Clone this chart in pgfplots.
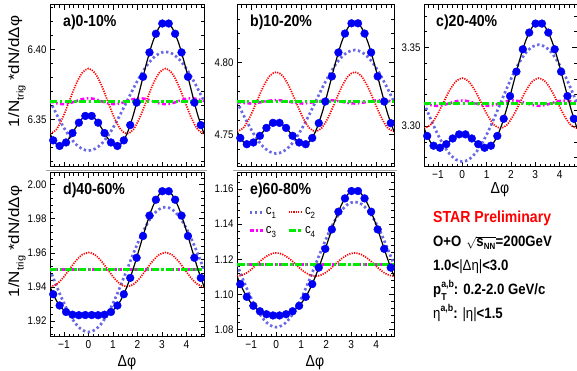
\documentclass[border=0pt]{standalone}
\usepackage{pgfplots}
\pgfplotsset{compat=1.18}
\usepackage{pgfplotstable}
\usepackage{fontspec}
\setmainfont{Liberation Sans}[FakeStretch=0.88]
\newfontfamily\plainsans{Liberation Sans}
\definecolor{cone}{RGB}{105,105,230}
\definecolor{ctwo}{RGB}{255,0,0}
\definecolor{cthree}{RGB}{255,0,255}
\definecolor{cfour}{RGB}{0,235,0}
\definecolor{mblue}{RGB}{0,0,245}

% ---------------- panel a ----------------
\pgfplotstableread{
x fit c1 c2 c3 c4
-1.5708 6.3399 6.3631 6.3399 6.3631 6.3631
-1.3090 6.3323 6.3540 6.3430 6.3616 6.3631
-1.0472 6.3317 6.3455 6.3515 6.3610 6.3631
-0.7854 6.3367 6.3382 6.3631 6.3616 6.3631
-0.5236 6.3442 6.3326 6.3747 6.3631 6.3631
-0.2618 6.3507 6.3291 6.3832 6.3646 6.3631
0.0000 6.3533 6.3279 6.3864 6.3652 6.3631
0.2618 6.3507 6.3291 6.3832 6.3646 6.3631
0.5236 6.3442 6.3326 6.3747 6.3631 6.3631
0.7854 6.3367 6.3382 6.3631 6.3616 6.3631
1.0472 6.3317 6.3455 6.3515 6.3610 6.3631
1.3090 6.3323 6.3540 6.3430 6.3616 6.3631
1.5708 6.3399 6.3631 6.3399 6.3631 6.3631
1.8326 6.3536 6.3722 6.3430 6.3646 6.3631
2.0944 6.3712 6.3807 6.3515 6.3652 6.3631
2.3562 6.3895 6.3880 6.3631 6.3646 6.3631
2.6180 6.4052 6.3936 6.3747 6.3631 6.3631
2.8798 6.4157 6.3971 6.3832 6.3616 6.3631
3.1416 6.4194 6.3983 6.3864 6.3610 6.3631
3.4034 6.4157 6.3971 6.3832 6.3616 6.3631
3.6652 6.4052 6.3936 6.3747 6.3631 6.3631
3.9270 6.3895 6.3880 6.3631 6.3646 6.3631
4.1888 6.3712 6.3807 6.3515 6.3652 6.3631
4.4506 6.3536 6.3722 6.3430 6.3646 6.3631
4.7124 6.3399 6.3631 6.3399 6.3631 6.3631
}\curA
\pgfplotstableread{
x y
-1.4399 6.3352
-1.1781 6.3312
-0.9163 6.3337
-0.6545 6.3404
-0.3927 6.3478
-0.1309 6.3526
0.1309 6.3526
0.3927 6.3478
0.6545 6.3404
0.9163 6.3337
1.1781 6.3312
1.4399 6.3352
1.7017 6.3461
1.9635 6.3621
2.2253 6.3805
2.4871 6.3979
2.7489 6.4112
3.0107 6.4185
3.2725 6.4185
3.5343 6.4112
3.7961 6.3979
4.0579 6.3805
4.3197 6.3621
4.5815 6.3461
}\datA

% ---------------- panel b ----------------
\pgfplotstableread{
x fit c1 c2 c3 c4
-1.5708 4.7521 4.7727 4.7521 4.7727 4.7727
-1.3090 4.7447 4.7634 4.7548 4.7719 4.7727
-1.0472 4.7433 4.7548 4.7624 4.7715 4.7727
-0.7854 4.7465 4.7473 4.7727 4.7719 4.7727
-0.5236 4.7520 4.7416 4.7830 4.7727 4.7727
-0.2618 4.7567 4.7381 4.7906 4.7735 4.7727
0.0000 4.7586 4.7368 4.7933 4.7739 4.7727
0.2618 4.7567 4.7381 4.7906 4.7735 4.7727
0.5236 4.7520 4.7416 4.7830 4.7727 4.7727
0.7854 4.7465 4.7473 4.7727 4.7719 4.7727
1.0472 4.7433 4.7548 4.7624 4.7715 4.7727
1.3090 4.7447 4.7634 4.7548 4.7719 4.7727
1.5708 4.7521 4.7727 4.7521 4.7727 4.7727
1.8326 4.7649 4.7820 4.7548 4.7735 4.7727
2.0944 4.7815 4.7906 4.7624 4.7739 4.7727
2.3562 4.7989 4.7981 4.7727 4.7735 4.7727
2.6180 4.8141 4.8038 4.7830 4.7727 4.7727
2.8798 4.8244 4.8073 4.7906 4.7719 4.7727
3.1416 4.8280 4.8086 4.7933 4.7715 4.7727
3.4034 4.8244 4.8073 4.7906 4.7719 4.7727
3.6652 4.8141 4.8038 4.7830 4.7727 4.7727
3.9270 4.7989 4.7981 4.7727 4.7735 4.7727
4.1888 4.7815 4.7906 4.7624 4.7739 4.7727
4.4506 4.7649 4.7820 4.7548 4.7735 4.7727
4.7124 4.7521 4.7727 4.7521 4.7727 4.7727
}\curB
\pgfplotstableread{
x y
-1.4399 4.7476
-1.1781 4.7433
-0.9163 4.7445
-0.6545 4.7491
-0.3927 4.7546
-0.1309 4.7581
0.1309 4.7581
0.3927 4.7546
0.6545 4.7491
0.9163 4.7445
1.1781 4.7433
1.4399 4.7476
1.7017 4.7579
1.9635 4.7729
2.2253 4.7903
2.4871 4.8069
2.7489 4.8200
3.0107 4.8271
3.2725 4.8271
3.5343 4.8200
3.7961 4.8069
4.0579 4.7903
4.3197 4.7729
4.5815 4.7579
}\datB

% ---------------- panel c ----------------
\pgfplotstableread{
x fit c1 c2 c3 c4
-1.5708 3.2987 3.3146 3.2987 3.3146 3.3146
-1.3090 3.2900 3.3050 3.3008 3.3134 3.3146
-1.0472 3.2864 3.2961 3.3067 3.3129 3.3146
-0.7854 3.2872 3.2884 3.3146 3.3134 3.3146
-0.5236 3.2904 3.2825 3.3226 3.3146 3.3146
-0.2618 3.2937 3.2788 3.3284 3.3158 3.3146
0.0000 3.2951 3.2775 3.3305 3.3163 3.3146
0.2618 3.2937 3.2788 3.3284 3.3158 3.3146
0.5236 3.2904 3.2825 3.3226 3.3146 3.3146
0.7854 3.2872 3.2884 3.3146 3.3134 3.3146
1.0472 3.2864 3.2961 3.3067 3.3129 3.3146
1.3090 3.2900 3.3050 3.3008 3.3134 3.3146
1.5708 3.2987 3.3146 3.2987 3.3146 3.3146
1.8326 3.3116 3.3242 3.3008 3.3158 3.3146
2.0944 3.3269 3.3331 3.3067 3.3163 3.3146
2.3562 3.3420 3.3408 3.3146 3.3158 3.3146
2.6180 3.3547 3.3467 3.3226 3.3146 3.3146
2.8798 3.3630 3.3504 3.3284 3.3134 3.3146
3.1416 3.3659 3.3517 3.3305 3.3129 3.3146
3.4034 3.3630 3.3504 3.3284 3.3134 3.3146
3.6652 3.3547 3.3467 3.3226 3.3146 3.3146
3.9270 3.3420 3.3408 3.3146 3.3158 3.3146
4.1888 3.3269 3.3331 3.3067 3.3163 3.3146
4.4506 3.3116 3.3242 3.3008 3.3158 3.3146
4.7124 3.2987 3.3146 3.2987 3.3146 3.3146
}\curC
\pgfplotstableread{
x y
-1.4399 3.2938
-1.1781 3.2876
-0.9163 3.2863
-0.6545 3.2886
-0.3927 3.2922
-0.1309 3.2948
0.1309 3.2948
0.3927 3.2922
0.6545 3.2886
0.9163 3.2863
1.1781 3.2876
1.4399 3.2938
1.7017 3.3047
1.9635 3.3191
2.2253 3.3346
2.4871 3.3488
2.7489 3.3594
3.0107 3.3651
3.2725 3.3651
3.5343 3.3594
3.7961 3.3488
4.0579 3.3346
4.3197 3.3191
4.5815 3.3047
}\datC

% ---------------- panel d ----------------
\pgfplotstableread{
x fit c1 c2 c3 c4
-1.5708 1.9402 1.9502 1.9402 1.9502 1.9502
-1.3090 1.9320 1.9407 1.9415 1.9502 1.9502
-1.0472 1.9269 1.9319 1.9452 1.9502 1.9502
-0.7854 1.9243 1.9243 1.9502 1.9502 1.9502
-0.5236 1.9235 1.9184 1.9552 1.9502 1.9502
-0.2618 1.9235 1.9148 1.9589 1.9502 1.9502
0.0000 1.9236 1.9135 1.9602 1.9502 1.9502
0.2618 1.9235 1.9148 1.9589 1.9502 1.9502
0.5236 1.9235 1.9184 1.9552 1.9502 1.9502
0.7854 1.9243 1.9243 1.9502 1.9502 1.9502
1.0472 1.9269 1.9319 1.9452 1.9502 1.9502
1.3090 1.9320 1.9407 1.9415 1.9502 1.9502
1.5708 1.9402 1.9502 1.9402 1.9502 1.9502
1.8326 1.9510 1.9597 1.9415 1.9502 1.9502
2.0944 1.9635 1.9685 1.9452 1.9502 1.9502
2.3562 1.9761 1.9761 1.9502 1.9502 1.9502
2.6180 1.9870 1.9820 1.9552 1.9502 1.9502
2.8798 1.9943 1.9856 1.9589 1.9502 1.9502
3.1416 1.9969 1.9869 1.9602 1.9502 1.9502
3.4034 1.9943 1.9856 1.9589 1.9502 1.9502
3.6652 1.9870 1.9820 1.9552 1.9502 1.9502
3.9270 1.9761 1.9761 1.9502 1.9502 1.9502
4.1888 1.9635 1.9685 1.9452 1.9502 1.9502
4.4506 1.9510 1.9597 1.9415 1.9502 1.9502
4.7124 1.9402 1.9502 1.9402 1.9502 1.9502
}\curD
\pgfplotstableread{
x y
-1.4399 1.9357
-1.1781 1.9291
-0.9163 1.9253
-0.6545 1.9237
-0.3927 1.9234
-0.1309 1.9235
0.1309 1.9235
0.3927 1.9234
0.6545 1.9237
0.9163 1.9253
1.1781 1.9291
1.4399 1.9357
1.7017 1.9453
1.9635 1.9571
2.2253 1.9699
2.4871 1.9819
2.7489 1.9912
3.0107 1.9962
3.2725 1.9962
3.5343 1.9912
3.7961 1.9819
4.0579 1.9699
4.3197 1.9571
4.5815 1.9453
}\datD

% ---------------- panel e ----------------
\pgfplotstableread{
x fit c1 c2 c3 c4
-1.5708 1.1103 1.1170 1.1103 1.1170 1.1170
-1.3090 1.1019 1.1077 1.1112 1.1170 1.1170
-1.0472 1.0957 1.0991 1.1136 1.1170 1.1170
-0.7854 1.0916 1.0916 1.1170 1.1170 1.1170
-0.5236 1.0893 1.0860 1.1203 1.1170 1.1170
-0.2618 1.0882 1.0824 1.1227 1.1170 1.1170
0.0000 1.0878 1.0812 1.1236 1.1170 1.1170
0.2618 1.0882 1.0824 1.1227 1.1170 1.1170
0.5236 1.0893 1.0860 1.1203 1.1170 1.1170
0.7854 1.0916 1.0916 1.1170 1.1170 1.1170
1.0472 1.0957 1.0991 1.1136 1.1170 1.1170
1.3090 1.1019 1.1077 1.1112 1.1170 1.1170
1.5708 1.1103 1.1170 1.1103 1.1170 1.1170
1.8326 1.1204 1.1262 1.1112 1.1170 1.1170
2.0944 1.1315 1.1349 1.1136 1.1170 1.1170
2.3562 1.1423 1.1423 1.1170 1.1170 1.1170
2.6180 1.1513 1.1480 1.1203 1.1170 1.1170
2.8798 1.1573 1.1515 1.1227 1.1170 1.1170
3.1416 1.1594 1.1527 1.1236 1.1170 1.1170
3.4034 1.1573 1.1515 1.1227 1.1170 1.1170
3.6652 1.1513 1.1480 1.1203 1.1170 1.1170
3.9270 1.1423 1.1423 1.1170 1.1170 1.1170
4.1888 1.1315 1.1349 1.1136 1.1170 1.1170
4.4506 1.1204 1.1262 1.1112 1.1170 1.1170
4.7124 1.1103 1.1170 1.1103 1.1170 1.1170
}\curE
\pgfplotstableread{
x y
-1.4399 1.1058
-1.1781 1.0985
-0.9163 1.0934
-0.6545 1.0903
-0.3927 1.0886
-0.1309 1.0879
0.1309 1.0879
0.3927 1.0886
0.6545 1.0903
0.9163 1.0934
1.1781 1.0985
1.4399 1.1058
1.7017 1.1152
1.9635 1.1259
2.2253 1.1370
2.4871 1.1471
2.7489 1.1547
3.0107 1.1589
3.2725 1.1589
3.5343 1.1547
3.7961 1.1471
4.0579 1.1370
4.3197 1.1259
4.5815 1.1152
}\datE

\pgfplotsset{
  panel/.style={
    scale only axis, anchor=south west,
    xmin=-1.5708, xmax=4.7124,
    axis line style={line width=1pt},
    every tick/.style={black, line width=0.7pt},
    major tick length=5pt, minor tick length=2.6pt,
    tick align=inside, tick pos=both,
    xtick={-1,0,1,2,3,4},
    minor xtick={-1.4,-1.2,-0.8,-0.6,-0.4,-0.2,0.2,0.4,0.6,0.8,1.2,1.4,1.6,1.8,2.2,2.4,2.6,2.8,3.2,3.4,3.6,3.8,4.2,4.4,4.6},
    /pgf/number format/assume math mode=true,
    yticklabel style={font=\fontsize{11}{12}\selectfont, /pgf/number format/fixed, /pgf/number format/fixed zerofill, /pgf/number format/precision=2},
    xticklabel style={font=\fontsize{11.5}{12}\selectfont},
    legend image code/.code={\draw[##1] (0pt,0pt) -- (13pt,0pt);},
  },
  cOne/.style={cone, line width=2.7pt, dash pattern=on 2.4pt off 2.6pt, smooth},
  cTwo/.style={ctwo, line width=1.7pt, dash pattern=on 1.2pt off 1.2pt, smooth},
  cThree/.style={cthree, line width=2.5pt, dash pattern=on 4pt off 2.5pt on 1.5pt off 2.5pt, smooth},
  cFour/.style={cfour, line width=3pt, dash pattern=on 7pt off 2.5pt on 2.5pt off 2.5pt},
  dataPts/.style={only marks, mark=*, mark size=3.9pt, mblue, mark options={draw=mblue, fill=mblue}},
  fitLine/.style={black, line width=1.2pt, smooth},
}

\newcommand{\panelcurves}[2]{%
  \addplot[cOne] table[y=c1]{#1};
  \addplot[cTwo] table[y=c2]{#1};
  \addplot[cThree] table[y=c3]{#1};
  \addplot[cFour] table[y=c4]{#1};
  \addplot[dataPts] table{#2};
  \addplot[fitLine] table[y=fit]{#1};
}

\begin{document}
\begin{tikzpicture}
\useasboundingbox (0pt,0pt) rectangle (577pt,371pt);

% gray pad separators
\draw[black!35, line width=1pt] (46pt,200.5pt) -- (207pt,200.5pt);
\draw[black!35, line width=1pt] (233pt,200.5pt) -- (397pt,200.5pt);

% panel a
\begin{axis}[panel, at={(50pt,204pt)}, width=154pt, height=162pt,
  ymin=6.3162, ymax=6.4317, ytick={6.35,6.40},
  minor ytick={6.32,6.33,6.34,6.36,6.37,6.38,6.39,6.41,6.42,6.43},
  xticklabels={}]
\panelcurves{\curA}{\datA}
\end{axis}

% panel b
\begin{axis}[panel, at={(237pt,204pt)}, width=157pt, height=162pt,
  ymin=4.7275, ymax=4.8398, ytick={4.75,4.80},
  minor ytick={4.73,4.74,4.76,4.77,4.78,4.79,4.81,4.82,4.83},
  xticklabels={}]
\panelcurves{\curB}{\datB}
\end{axis}

% panel c
\begin{axis}[panel, at={(424pt,204pt)}, width=153pt, height=162pt,
  ymin=3.2741, ymax=3.3769, ytick={3.30,3.35},
  minor ytick={3.28,3.29,3.31,3.32,3.33,3.34,3.36,3.37},
  xticklabels={−1,0,1,2,3,4}]
\panelcurves{\curC}{\datC}
\end{axis}

% panel d
\begin{axis}[panel, at={(50pt,34pt)}, width=154pt, height=164pt,
  ymin=1.9106, ymax=2.0069, ytick={1.92,1.94,1.96,1.98,2.00},
  minor ytick={1.912,1.916,1.924,1.928,1.932,1.936,1.944,1.948,1.952,1.956,1.964,1.968,1.972,1.976,1.984,1.988,1.992,1.996,2.004},
  xticklabels={−1,0,1,2,3,4}]
\panelcurves{\curD}{\datD}
\end{axis}

% panel e
\begin{axis}[panel, at={(237pt,34pt)}, width=157pt, height=164pt,
  ymin=1.0756, ymax=1.1692, ytick={1.08,1.10,1.12,1.14,1.16},
  minor ytick={1.076,1.084,1.088,1.092,1.096,1.104,1.108,1.112,1.116,1.124,1.128,1.132,1.136,1.144,1.148,1.152,1.156,1.164,1.168},
  xticklabels={−1,0,1,2,3,4},
  legend columns=2,
  legend cell align=left,
  legend style={at={(0.07,0.80)}, anchor=north west, draw=none, fill=none,
    inner sep=0pt, row sep=6pt, font=\fontsize{13}{14}\selectfont,
    /tikz/every even column/.append style={column sep=9pt}}]
\addplot[cOne] table[y=c1]{\curE};
\addlegendentry{c\raisebox{-0.3em}{\fontsize{9}{9}\selectfont 1}}
\addplot[cTwo] table[y=c2]{\curE};
\addlegendentry{c\raisebox{-0.3em}{\fontsize{9}{9}\selectfont 2}}
\addplot[cThree] table[y=c3]{\curE};
\addlegendentry{c\raisebox{-0.3em}{\fontsize{9}{9}\selectfont 3}}
\addplot[cFour] table[y=c4]{\curE};
\addlegendentry{c\raisebox{-0.3em}{\fontsize{9}{9}\selectfont 4}}
\addplot[dataPts, forget plot] table{\datE};
\addplot[fitLine, forget plot] table[y=fit]{\curE};
\end{axis}

% panel labels
\node[anchor=base west, inner sep=0pt, font=\fontsize{16}{18}\selectfont\bfseries] at (63pt,344pt) {a)0-10\%};
\node[anchor=base west, inner sep=0pt, font=\fontsize{16}{18}\selectfont\bfseries] at (250pt,344pt) {b)10-20\%};
\node[anchor=base west, inner sep=0pt, font=\fontsize{16}{18}\selectfont\bfseries] at (436pt,344pt) {c)20-40\%};
\node[anchor=base west, inner sep=0pt, font=\fontsize{16}{18}\selectfont\bfseries] at (63pt,176pt) {d)40-60\%};
\node[anchor=base west, inner sep=0pt, font=\fontsize{16}{18}\selectfont\bfseries] at (250pt,176pt) {e)60-80\%};

% y titles
\node[rotate=90, inner sep=0pt] at (17pt,299.5pt) {\scalebox{1}[0.88]{\fontsize{17}{19}\plainsans 1/N\raisebox{-0.3em}{\fontsize{11}{12}\selectfont trig} *dN/dΔφ}};
\node[rotate=90, inner sep=0pt] at (17pt,129.5pt) {\scalebox{1}[0.88]{\fontsize{17}{19}\plainsans 1/N\raisebox{-0.3em}{\fontsize{11}{12}\selectfont trig} *dN/dΔφ}};

% x titles
\node[anchor=base, inner sep=0pt, font=\fontsize{16}{18}\selectfont] at (127pt,4pt) {Δφ};
\node[anchor=base, inner sep=0pt, font=\fontsize{16}{18}\selectfont] at (315pt,4pt) {Δφ};
\node[anchor=base, inner sep=0pt, font=\fontsize{16}{18}\selectfont] at (500pt,177pt) {Δφ};

% text block
\node[anchor=base west, inner sep=0pt, font=\fontsize{16}{18}\selectfont\bfseries, text=ctwo] at (433pt,148pt) {STAR Preliminary};
\node[anchor=base west, inner sep=0pt, font=\fontsize{15}{18}\selectfont\bfseries] at (433pt,124pt) {O+O\hspace{5pt}{\fontsize{12}{14}\selectfont$\sqrt{\mbox{\fontsize{15}{18}\selectfont\bfseries s}_{\mbox{\fontsize{9}{9}\selectfont\bfseries NN}}}$}=200GeV};
\node[anchor=base west, inner sep=0pt, font=\fontsize{15}{18}\selectfont\bfseries] at (433pt,100pt) {1.0<{\mdseries|Δη|}<3.0};
\node[anchor=base west, inner sep=0pt, font=\fontsize{15}{18}\selectfont\bfseries] at (433pt,76pt) {p\rlap{\raisebox{-0.35em}{\fontsize{10}{10}\selectfont T}}\raisebox{0.5em}{\fontsize{10}{10}\selectfont a,b}: 0.2-2.0 GeV/c};
\node[anchor=base west, inner sep=0pt, font=\fontsize{15}{18}\selectfont\bfseries] at (433pt,52pt) {{\mdseries η}\raisebox{0.5em}{\fontsize{10}{10}\selectfont a,b}: {\mdseries|η|}<1.5};
\end{tikzpicture}
\end{document}
